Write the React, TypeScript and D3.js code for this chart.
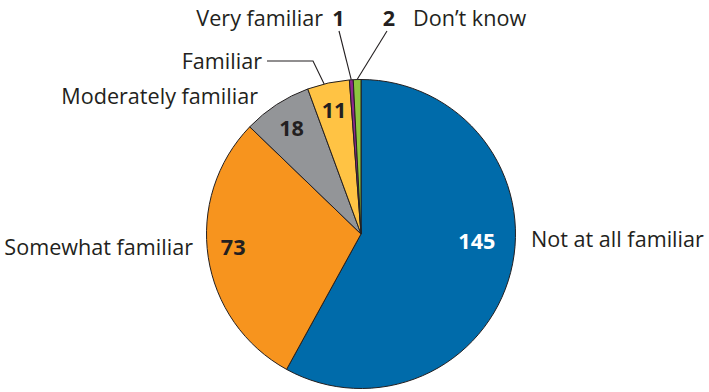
import React from "react";
import * as d3 from "d3";

const categories = ["Not at all familiar", "Somewhat familiar", "Moderately familiar", "Familiar", "Very familiar", "Don\u2019t know"];
const values = [145, 73, 18, 11, 1, 2];
const colors = ["#006BAA", "#F7941E", "#939598", "#FFC344", "#8E278C", "#8DC63F"];

const W = 709;
const H = 392;
const CX = 361;
const CY = 234;
const R = 154.5;
const TEXT = "#231F20";
const FONT = "'Open Sans', 'Noto Sans', sans-serif";
const FS = 21.6;

export default function App() {
  const data = categories.map((c, i) => ({ name: c, value: values[i], color: colors[i] }));
  const pie = d3.pie<any>().sort(null).value((d: any) => d.value).startAngle(0).endAngle(2 * Math.PI);
  const arcs = pie(data);
  const arcGen = d3.arc<any>().innerRadius(0).outerRadius(R);

  const polar = (angle: number, r: number): [number, number] => [CX + r * Math.sin(angle), CY - r * Math.cos(angle)];
  const mid = (a: any) => (a.startAngle + a.endAngle) / 2;
  const deg = (d: number) => (d * Math.PI) / 180;

  const inner: Record<number, [number, number]> = {
    0: [deg(93), 116],
    1: [deg(264.2), 128.5],
    2: [mid(arcs[2]), 127],
    3: [mid(arcs[3]), 127],
  };

  const lineStyle = { stroke: TEXT, strokeWidth: 1.1, fill: "none" };

  const pFam = polar(deg(346.2), R);
  const pVery = polar(mid(arcs[4]), R);
  const pDk = polar(mid(arcs[5]), R);

  return (
    <svg width={W} height={H} style={{ position: "absolute", left: 0, top: 0, background: "#fff" }} fontFamily={FONT}>
      <g transform={`translate(${CX},${CY})`}>
        {arcs.map((a, i) => (
          <path key={i} d={arcGen(a) as string} fill={a.data.color} stroke={TEXT} strokeWidth={1} strokeLinejoin="round" />
        ))}
      </g>
      {Object.keys(inner).map((k) => {
        const i = +k;
        const [ang, r] = inner[i];
        const [x, y] = polar(ang, r);
        return (
          <text key={i} x={x} y={y} textAnchor="middle" dominantBaseline="central" fontSize={FS} fontWeight={700} fill={i === 0 ? "#fff" : TEXT}>
            {values[i]}
          </text>
        );
      })}

      <text x={531} y={247} fontSize={FS} fill={TEXT}>{categories[0]}</text>
      <text x={193} y={255} textAnchor="end" fontSize={FS} fill={TEXT}>{categories[1]}</text>
      <text x={258} y={104} textAnchor="end" fontSize={FS} fill={TEXT}>{categories[2]}</text>
      <text x={262} y={69} textAnchor="end" fontSize={FS} fill={TEXT}>{categories[3]}</text>
      <polyline points={`267,61 313,61 ${pFam[0]},${pFam[1]}`} {...lineStyle} />

      <text x={323} y={26} textAnchor="end" fontSize={FS} fill={TEXT}>{categories[4]}</text>
      <text x={338.5} y={26} textAnchor="middle" fontSize={FS} fontWeight={700} fill={TEXT}>{values[4]}</text>
      <line x1={339} y1={31} x2={pVery[0]} y2={pVery[1]} {...lineStyle} />

      <text x={389} y={26} textAnchor="middle" fontSize={FS} fontWeight={700} fill={TEXT}>{values[5]}</text>
      <text x={413} y={26} fontSize={FS} fill={TEXT}>{categories[5]}</text>
      <line x1={387} y1={31} x2={pDk[0]} y2={pDk[1]} {...lineStyle} />
    </svg>
  );
}
